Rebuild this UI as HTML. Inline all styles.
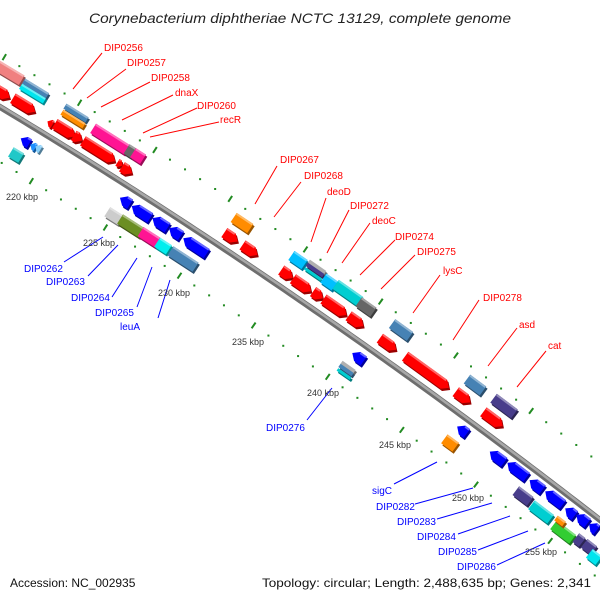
<!DOCTYPE html>
<html><head><meta charset="utf-8"><style>
html,body{margin:0;padding:0;background:#fff;width:600px;height:600px;overflow:hidden;}
svg{display:block;overflow:hidden;}
.r{fill:#ff0000;font:10px "Liberation Sans",sans-serif;}
.b{fill:#0000ff;font:10px "Liberation Sans",sans-serif;}
.k{fill:#333;font:9px "Liberation Sans",sans-serif;}
</style></head><body>
<svg id="s" xmlns="http://www.w3.org/2000/svg" width="600" height="600" viewBox="0 0 600 600">
<rect width="600" height="600" fill="#fff"/>
<g id="dots"></g>
<g id="bb"></g>
<g id="feats"></g>
<g stroke="#ff0000" stroke-width="1">
<line x1="102" y1="53" x2="73" y2="89"/>
<line x1="126" y1="69" x2="87" y2="98"/>
<line x1="150" y1="82" x2="101" y2="107"/>
<line x1="173" y1="95" x2="122" y2="120"/>
<line x1="197" y1="108" x2="143" y2="133"/>
<line x1="219" y1="122" x2="150" y2="137"/>
<line x1="277" y1="166" x2="255" y2="204"/>
<line x1="301" y1="182" x2="274" y2="217"/>
<line x1="326" y1="198" x2="311" y2="242"/>
<line x1="349" y1="210" x2="327" y2="253"/>
<line x1="370" y1="223" x2="342" y2="263"/>
<line x1="395" y1="240" x2="360" y2="275"/>
<line x1="415" y1="255" x2="381" y2="289"/>
<line x1="440" y1="275" x2="413" y2="313"/>
<line x1="479" y1="300" x2="453" y2="340"/>
<line x1="517" y1="328" x2="488" y2="366"/>
<line x1="546" y1="351" x2="517" y2="387"/>
</g>
<g stroke="#0000ff" stroke-width="1">
<line x1="64" y1="262" x2="103" y2="237"/>
<line x1="88" y1="276" x2="118" y2="245"/>
<line x1="112" y1="297" x2="137" y2="258"/>
<line x1="137" y1="307" x2="152" y2="267"/>
<line x1="158" y1="318" x2="170" y2="280"/>
<line x1="307" y1="420" x2="332" y2="388"/>
<line x1="394" y1="484" x2="437" y2="462"/>
<line x1="415" y1="504" x2="473" y2="488"/>
<line x1="437" y1="519" x2="492" y2="503"/>
<line x1="458" y1="534" x2="510" y2="516"/>
<line x1="478" y1="550" x2="528" y2="531"/>
<line x1="497" y1="565" x2="545" y2="543"/>
</g>
<text x="104" y="51" class="r">DIP0256</text>
<text x="127" y="66" class="r">DIP0257</text>
<text x="151" y="81" class="r">DIP0258</text>
<text x="175" y="96" class="r">dnaX</text>
<text x="197" y="109" class="r">DIP0260</text>
<text x="220" y="123" class="r">recR</text>
<text x="280" y="163" class="r">DIP0267</text>
<text x="304" y="179" class="r">DIP0268</text>
<text x="327" y="195" class="r">deoD</text>
<text x="350" y="209" class="r">DIP0272</text>
<text x="372" y="224" class="r">deoC</text>
<text x="395" y="240" class="r">DIP0274</text>
<text x="417" y="255" class="r">DIP0275</text>
<text x="443" y="274" class="r">lysC</text>
<text x="483" y="301" class="r">DIP0278</text>
<text x="519" y="328" class="r">asd</text>
<text x="548" y="349" class="r">cat</text>
<text x="24" y="272" class="b">DIP0262</text>
<text x="46" y="285" class="b">DIP0263</text>
<text x="71" y="301" class="b">DIP0264</text>
<text x="95" y="316" class="b">DIP0265</text>
<text x="120" y="330" class="b">leuA</text>
<text x="266" y="431" class="b">DIP0276</text>
<text x="372" y="494" class="b">sigC</text>
<text x="376" y="510" class="b">DIP0282</text>
<text x="397" y="525" class="b">DIP0283</text>
<text x="417" y="540" class="b">DIP0284</text>
<text x="438" y="555" class="b">DIP0285</text>
<text x="457" y="570" class="b">DIP0286</text>
<g text-anchor="middle">
<text x="22" y="200" class="k">220 kbp</text>
<text x="99" y="246" class="k">225 kbp</text>
<text x="174" y="296" class="k">230 kbp</text>
<text x="248" y="345" class="k">235 kbp</text>
<text x="323" y="396" class="k">240 kbp</text>
<text x="395" y="448" class="k">245 kbp</text>
<text x="468" y="501" class="k">250 kbp</text>
<text x="541" y="555" class="k">255 kbp</text>
</g>
<text x="300" y="23" text-anchor="middle" font-family="Liberation Sans, sans-serif" font-style="italic" font-size="14" fill="#222" textLength="422" lengthAdjust="spacingAndGlyphs">Corynebacterium diphtheriae NCTC 13129, complete genome</text>
<text x="10" y="587" font-family="Liberation Sans, sans-serif" font-size="12" fill="#111">Accession: NC_002935</text>
<text x="262" y="587" font-family="Liberation Sans, sans-serif" font-size="12" fill="#111" textLength="329" lengthAdjust="spacingAndGlyphs">Topology: circular; Length: 2,488,635 bp; Genes: 2,341</text>
</svg>
<script>
(function(){
var NS="http://www.w3.org/2000/svg";
function el(t,a,p){var e=document.createElementNS(NS,t);for(var k in a)e.setAttribute(k,a[k]);p.appendChild(e);return e;}
function Y(x){return 107+0.6*x+1.472e-4*x*x;}
function th(x){return Math.atan(0.6+2.944e-4*x);}
var bb=document.getElementById('bb'),dots=document.getElementById('dots'),fg=document.getElementById('feats');
var pts=[];for(var x=-5;x<=610;x+=5)pts.push(x+","+Y(x).toFixed(2));
el('polyline',{points:pts.join(" "),fill:"none",stroke:"#6e6e6e","stroke-width":6},bb);
var pts2=[];for(var x=-5;x<=610;x+=5)pts2.push(x+","+(Y(x)-1.2).toFixed(2));
el('polyline',{points:pts2.join(" "),fill:"none",stroke:"#a8a8a8","stroke-width":2.5},bb);
for(var k=212;k<=258;k++){
 var xb=56+(k-220)*14.94,yb=Y(xb),t=th(xb),s=Math.sin(t),c=Math.cos(t);
 [[45,1],[47,-1]].forEach(function(o){
  var d=o[0]*o[1],px=xb+s*d,py=yb-c*d;
  if(px<-2||px>602||py<-2||py>598)return;
  if(k%5==0){el('line',{x1:px-s*3.5,y1:py+c*3.5,x2:px+s*3.5,y2:py-c*3.5,stroke:"#228b22","stroke-width":2},dots);}
  else el('rect',{x:px-1,y:py-1,width:2,height:2,fill:"#228b22"},dots);
 });
}
function hx(c){return [parseInt(c.substr(1,2),16),parseInt(c.substr(3,2),16),parseInt(c.substr(5,2),16)];}
function mix(c,f,w){var a=hx(c);return "rgb("+a.map(function(v){return Math.round(v*(1-w)+f*w);}).join(",")+")";}
function feat(cx,cy,L,T,col,type){
 var a=th(cx)*180/Math.PI,l=L/2,h=T/2,p;
 var hd=Math.min(T*0.55,L*0.6);
 if(type=='F')p=[-l,-h,l-hd,-h,l,0,l-hd,h,-l,h];
 else if(type=='R')p=[l,-h,-l+hd,-h,-l,0,-l+hd,h,l,h];
 else p=[-l,-h,l,-h,l,h,-l,h];
 var ps=p.join(" ");
 var g1=el('g',{transform:"translate("+(cx+1.3)+","+(cy+2.2)+") rotate("+a+")"},fg);
 el('polygon',{points:ps,fill:mix(col,0,0.4)},g1);
 var g=el('g',{transform:"translate("+cx+","+cy+") rotate("+a+")"},fg);
 el('polygon',{points:ps,fill:col},g);
 var x1=type=='R'?-l+hd:-l,x2=type=='F'?l-hd:l;
 if(T>=6)el('line',{x1:x1+0.5,y1:-h+1,x2:x2-0.5,y2:-h+1,stroke:mix(col,255,0.4),"stroke-width":2},g);
}
var R="#ff0000",B="#0000ff",SB="#4682b4",DSB="#483d8b",TQ="#00ced1";
var F=[
[8,72,32,11,"#f08080","box"],
[35.5,88.4,28,6,SB,"box"],[32.5,93.6,28,6,"#00e5ee","box"],
[2,93,18,11,R,"F"],[24,105,26,11,R,"F"],
[76,113,26,6,SB,"box"],[73,119,26,6,"#ff8c00","box"],
[50,123,6,8,R,"R"],
[65,130,24,11,R,"F"],[78,138,10,11,R,"F"],[99,151,38,11,R,"F"],[120,164,6,8,R,"F"],[127,170,12,11,R,"F"],
[110,139,40,11,"#ff1493","box"],[130,151,8,11,"#666666","box"],[138,156,12,11,"#ff1493","box"],
[25,141,10,10,B,"R"],[33,146,6,8,"#1e90ff","R"],[38,148,6,8,"#87cefa","R"],
[16,155,12,11,"#20c8c8","box"],
[125,201,12,11,B,"R"],[141,212,22,11,B,"R"],[160,223,18,11,B,"R"],[175,232,14,11,B,"R"],[195,246,28,11,B,"R"],
[114,216,16,11,"#cccccc","box"],[131,226,26,11,"#6b8e23","box"],[149,237,20,11,"#ff1493","box"],[163,246,14,11,"#00eeee","box"],[183,259,30,11,SB,"box"],
[242,223,20,11,"#ff8c00","box"],
[231,237,16,11,R,"F"],[250,250,18,11,R,"F"],
[298,260,16,11,"#00bfff","box"],
[317,267,20,4,"#b0b0b0","box"],[315,270,20,4,DSB,"box"],[313,274,20,3,TQ,"box"],
[329,282,14,11,"#00bfff","box"],[348,293,30,11,TQ,"box"],[366,307,18,11,"#666666","box"],
[287,274,14,11,R,"F"],[302,285,22,11,R,"F"],[318,295,12,11,R,"F"],[335,307,28,11,R,"F"],[356,321,18,11,R,"F"],
[401,330,22,11,SB,"box"],[388,344,20,11,R,"F"],[427,372,54,11,R,"F"],[475,385,20,11,SB,"box"],[463,397,18,11,R,"F"],[504,406,26,11,DSB,"box"],[493,419,24,11,R,"F"],
[358,357,14,11,B,"R"],
[348,367,16,4,"#b0b0b0","box"],[346,370,16,4,SB,"box"],[344,374,16,3,TQ,"box"],
[462,430,12,11,B,"R"],[450,443,14,11,"#ff8c00","box"],
[497,457,18,11,B,"R"],[517,470,24,11,B,"R"],[536,485,16,11,B,"R"],[554,498,22,11,B,"R"],[570,512,12,11,B,"R"],[582,519,14,11,B,"R"],[593,527,10,11,B,"R"],
[523,496,18,11,DSB,"box"],[541,512,24,11,TQ,"box"],[563,532,24,11,"#32cd32","box"],[560,521,10,6,"#ff8c00","box"],
[579,540,8,11,DSB,"box"],[589,547,12,11,DSB,"box"],[594,557,12,11,"#00e5ee","box"]
];
F.forEach(function(f){feat.apply(null,f);});
})();
</script>
</body></html>
